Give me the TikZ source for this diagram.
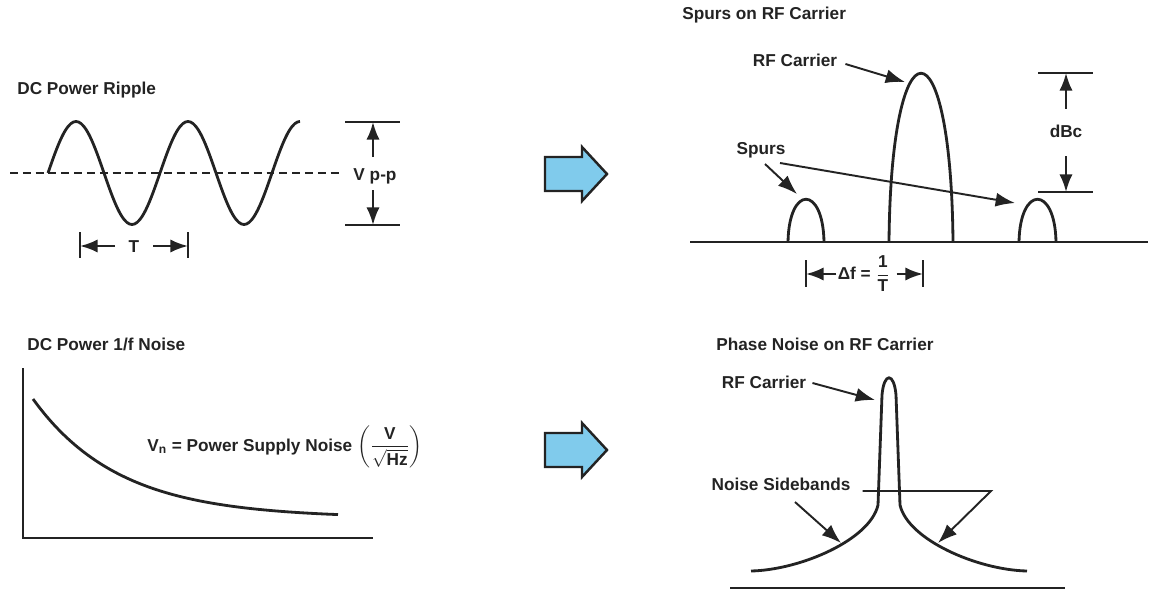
\documentclass[tikz,border=0pt]{standalone}
\usepackage{amsmath}
\usepackage{fontspec}
\setmainfont{Liberation Sans}
\usetikzlibrary{arrows.meta}
\usetikzlibrary{calc}
\definecolor{inkgray}{RGB}{35,35,35}
\definecolor{arrowfill}{RGB}{128,203,236}

\begin{document}
\begin{tikzpicture}[
  x=0.02cm,y=-0.02cm,
  curve/.style={line width=1.6pt,line join=round,draw=inkgray},
  axis/.style={line width=1.3pt,draw=inkgray},
  bar/.style={line width=1.2pt,draw=inkgray},
  midline/.style={line width=1.1pt,draw=inkgray,dash pattern=on 4.5pt off 2.8pt},
  pointer/.style={-{Latex[length=11pt,width=8pt]},line width=1.1pt,draw=inkgray},
  dimarrow/.style={-{Latex[length=10pt,width=7.5pt]},line width=1.3pt,draw=inkgray},
  title/.style={font=\bfseries\fontsize{9.8}{11}\selectfont,text=inkgray,inner sep=0pt,anchor=base west},
  lbl/.style={font=\bfseries\fontsize{9.8}{11}\selectfont,text=inkgray,inner sep=0pt,anchor=base},
  block/.style={fill=arrowfill,draw=inkgray,line width=1.4pt,line join=miter}
]
  \useasboundingbox (0,0) rectangle (1159,598);

  % DC power ripple
  \node[title] (ripple) at (17,94) {DC Power Ripple};
  \draw[midline] (10,173) -- (340,173);
  \draw[curve] plot[domain=48:300,samples=100,smooth] (\x,{173-51.5*sin(3.2143*(\x-48))});

  \draw[bar] (345,122) -- (400,122);
  \draw[bar] (345,225) -- (400,225);
  \coordinate (vtop) at (373,122);
  \coordinate (vbot) at (373,225);
  \node[lbl] (vpp) at (375,180) {V p-p};
  \draw[dimarrow] ($(vpp.base)+(-2,-23)$) -- (vtop);
  \draw[dimarrow] ($(vpp.base)+(-2,10)$) -- (vbot);

  \draw[bar] (80,232) -- (80,258);
  \draw[bar] (188,232) -- (188,258);
  \coordinate (tl) at (80,246);
  \coordinate (tr) at (188,246);
  \node[lbl] (per) at (134,252) {T};
  \draw[dimarrow] ($(per.base)+(-19,-6)$) -- (tl);
  \draw[dimarrow] ($(per.base)+(19,-6)$) -- (tr);

  % spurs on RF carrier
  \node[title] (spurtitle) at (682,20) {Spurs on RF Carrier};
  \draw[axis] (690,242) -- (1148,242);
  \draw[curve] (788,242) .. controls (789,185) and (823,185) .. (824,242);
  \draw[curve] (889,242) .. controls (891,17) and (951,17) .. (953,242);
  \draw[curve] (1019,242) .. controls (1020,185) and (1055,185) .. (1056,242);

  \node[lbl] (rfc) at (795,67) {RF Carrier};
  \coordinate (cartip) at (905,82);
  \draw[pointer] ($(rfc.base east)+(8,-3)$) -- (cartip);

  \node[lbl] (spurs) at (761,154) {Spurs};
  \coordinate (spurL) at (797,194);
  \coordinate (spurR) at (1015,203);
  \draw[pointer] ($(spurs.base)+(4,10)$) -- (spurL);
  \draw[pointer] ($(spurs.base)+(19,9)$) -- (spurR);

  \draw[bar] (1038,73) -- (1093,73);
  \draw[bar] (1038,192) -- (1093,192);
  \coordinate (dtop) at (1066,73);
  \coordinate (dbot) at (1066,192);
  \node[lbl] (dbc) at (1066,137) {dBc};
  \draw[dimarrow] ($(dbc.base)+(0,-28)$) -- (dtop);
  \draw[dimarrow] ($(dbc.base)+(0,19)$) -- (dbot);

  \draw[bar] (806,260) -- (806,287);
  \draw[bar] (923,260) -- (923,287);
  \coordinate (dfL) at (806,274);
  \coordinate (dfR) at (923,274);
  \node[lbl,anchor=center] (dfn) at (864,274) {Δf = $\dfrac{\text{1}}{\text{T}}$};
  \draw[dimarrow] ($(dfn.west)+(-1,0)$) -- (dfn.west -| dfL);
  \draw[dimarrow] ($(dfn.east)+(6,0)$) -- (dfn.east -| dfR);

  % DC power 1/f noise
  \node[title] (flicker) at (27,350) {DC Power 1/f Noise};
  \draw[axis] (23,368) -- (23,538) -- (373,538);
  \draw[curve] plot[domain=33:338,samples=80,smooth] (\x,{518-119*exp(-(\x-33)/86)});
  \node[lbl,anchor=base west] (vn) at (147,451) {V\textsubscript{n} = Power Supply Noise $\left(\dfrac{\text{V}}{\sqrt{\text{Hz}}}\right)$};

  % phase noise on RF carrier
  \node[title] (phtitle) at (716,350) {Phase Noise on RF Carrier};
  \draw[axis] (730,588) -- (1065,588);
  \draw[curve] (751,571) .. controls (800,570) and (870,540) .. (878,505)
    -- (882,395) .. controls (884,372) and (894,372) .. (896,395)
    -- (900,505) .. controls (908,540) and (978,570) .. (1027,571);

  \node[lbl] (rfc2) at (764,388) {RF Carrier};
  \coordinate (peaktip) at (875,400);
  \draw[pointer] ($(rfc2.base east)+(6,-5)$) -- (peaktip);

  \node[lbl] (nsb) at (781,490) {Noise Sidebands};
  \coordinate (knee) at (991,491);
  \coordinate (sbL) at (841,543);
  \coordinate (sbR) at (938,543);
  \draw[pointer] ($(nsb.base)+(14,12)$) -- (sbL);
  \draw[pointer] ($(nsb.base east)+(12,1)$) -- (knee) -- (sbR);

  % block arrows
  \foreach \yc in {174,450}{
    \draw[block] (545,\yc-17) -- (582,\yc-17) -- (582,\yc-27) -- (607,\yc)
      -- (582,\yc+27) -- (582,\yc+17) -- (545,\yc+17) -- cycle;
  }
\end{tikzpicture}
\end{document}
